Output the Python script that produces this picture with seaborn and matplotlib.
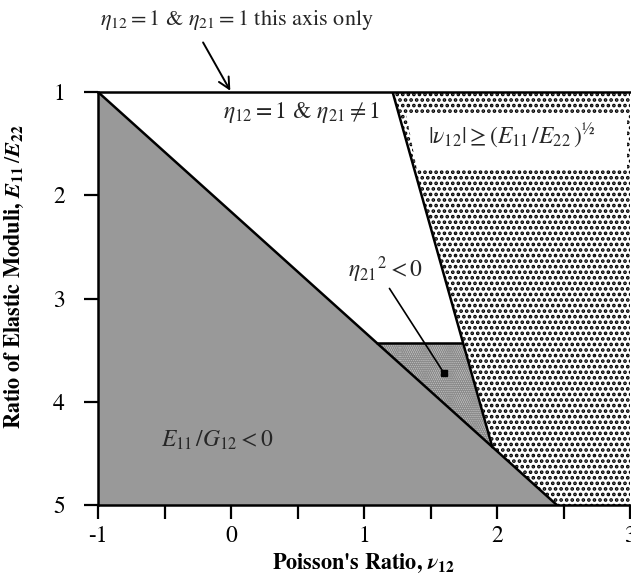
import matplotlib
matplotlib.use("Agg")
import matplotlib.pyplot as plt
import seaborn as sns
import pandas as pd
from matplotlib.ticker import MultipleLocator

# ---- data ----
# boundary E11/G12 = 0 line
gray_nu = [-1.0, 2.45]
gray_ratio = [1.0, 5.0]
# boundary |nu12| = sqrt(E11/E22) (drawn as straight segment)
bound_nu = [1.215, 1.965]
bound_ratio = [1.0, 4.44]
# eta21^2 < 0 region (triangle)
eta_nu = [1.10, 1.74, 1.965]
eta_ratio = [3.43, 3.43, 4.44]
# polygons
gray_poly_nu = [-1.0, 2.45, -1.0]
gray_poly_ratio = [1.0, 5.0, 5.0]
dot_poly_nu = [1.215, 3.0, 3.0, 2.45, 1.965]
dot_poly_ratio = [1.0, 1.0, 5.0, 5.0, 4.44]
xticks = [-1, 0, 1, 2, 3]
yticks = [1, 2, 3, 4, 5]

sns.set_theme(style="white")
plt.rcParams['font.family'] = ['STIXGeneral', 'Liberation Serif', 'DejaVu Serif']
plt.rcParams['mathtext.fontset'] = 'stix'
plt.rcParams['hatch.linewidth'] = 1.8

fig = plt.figure(figsize=(6.31, 5.80), dpi=100)
ax = fig.add_axes([98/631, 75/580, 532/631, 413/580])

# regions
ax.fill(gray_poly_nu, gray_poly_ratio, facecolor='#999999', edgecolor='none', zorder=1)
ax.fill(dot_poly_nu, dot_poly_ratio, facecolor='white', edgecolor='black', hatch='...',
        linewidth=0, zorder=1)
ax.fill(eta_nu, eta_ratio, facecolor='#bdbdbd', edgecolor='#8c8c8c', hatch='........',
        linewidth=0, zorder=1)
# white label box inside dotted region
box_nu = [1.215 + 0.75 * 0.2 / 3.44 + 0.06, 2.98, 2.98, 1.215 + 0.75 * 0.76 / 3.44 + 0.02]
box_ratio = [1.2, 1.2, 1.76, 1.76]
ax.fill(box_nu, box_ratio, facecolor='white', edgecolor='none', zorder=2)

# boundary lines
df_g = pd.DataFrame({'nu': gray_nu, 'ratio': gray_ratio})
df_b = pd.DataFrame({'nu': bound_nu, 'ratio': bound_ratio})
df_h = pd.DataFrame({'nu': eta_nu[:2], 'ratio': eta_ratio[:2]})
for d in (df_g, df_b, df_h):
    sns.lineplot(data=d, x='nu', y='ratio', color='black', lw=1.8, ax=ax,
                 estimator=None, sort=False, zorder=4)

ax.set_xlim(-1, 3)
ax.set_ylim(5, 1)
ax.set_xticks(xticks)
ax.set_xticklabels(['-1', '0', '1', '2', '3'])
ax.xaxis.set_minor_locator(MultipleLocator(0.5))
ax.set_yticks(yticks)
ax.tick_params(axis='both', which='both', direction='out', length=10, width=1.6,
               color='black', labelsize=17, labelcolor='black')
ax.tick_params(axis='x', which='both', bottom=True, pad=5)
ax.tick_params(axis='y', which='major', left=True, pad=14)
for s in ('left', 'bottom', 'top'):
    ax.spines[s].set_visible(True)
    ax.spines[s].set_color('black')
    ax.spines[s].set_linewidth(1.8)
ax.spines['right'].set_visible(False)
ax.spines['top'].set_zorder(5)

ax.set_xlabel(r"Poisson's Ratio, $\mathbfit{\nu}_{\mathbf{12}}$", fontsize=16,
              fontweight='bold', color='black', labelpad=3)
ax.set_ylabel(r"Ratio of Elastic Moduli, $\mathbfit{E}_{\mathbf{11}}\,/\mathbfit{E}_{\mathbf{22}}$",
              fontsize=16, fontweight='bold', color='black')
ax.yaxis.set_label_coords(-0.135, 0.554)

# region labels
ax.text(0.53, 1.2, r'$\eta_{12} = 1$ & $\eta_{21} \neq 1$', fontsize=17,
        ha='center', va='center', zorder=6)
ax.text(2.11, 1.42, r'$|\nu_{12}| \geq (E_{11}\,/E_{22}\,)^{½}$', fontsize=17,
        ha='center', va='center', zorder=6)
ax.text(-0.1, 4.37, r'$E_{11}\,/G_{12} < 0$', fontsize=17,
        ha='center', va='center', zorder=6)
ax.text(1.16, 2.72, r'$\eta_{21}{}^{2} < 0$', fontsize=17,
        ha='center', va='center', zorder=6)
ax.annotate('', xy=(1.60, 3.72), xytext=(1.18, 2.88),
            arrowprops=dict(arrowstyle='-', lw=1.2, color='black'), zorder=6)
ax.plot([1.60], [3.72], marker='s', ms=5, color='black', zorder=7)

# top annotation with arrow
ax.text(0.045, 0.30, r'$\eta_{12} = 1$ & $\eta_{21} = 1$ this axis only', fontsize=16,
        ha='center', va='center', clip_on=False)
ax.annotate('', xy=(0.0, 1.0), xytext=(-0.21, 0.52), annotation_clip=False,
            arrowprops=dict(arrowstyle='->', lw=1.4, color='black',
                            shrinkA=0, shrinkB=1, mutation_scale=20))

fig.savefig('out.png', dpi=100)
